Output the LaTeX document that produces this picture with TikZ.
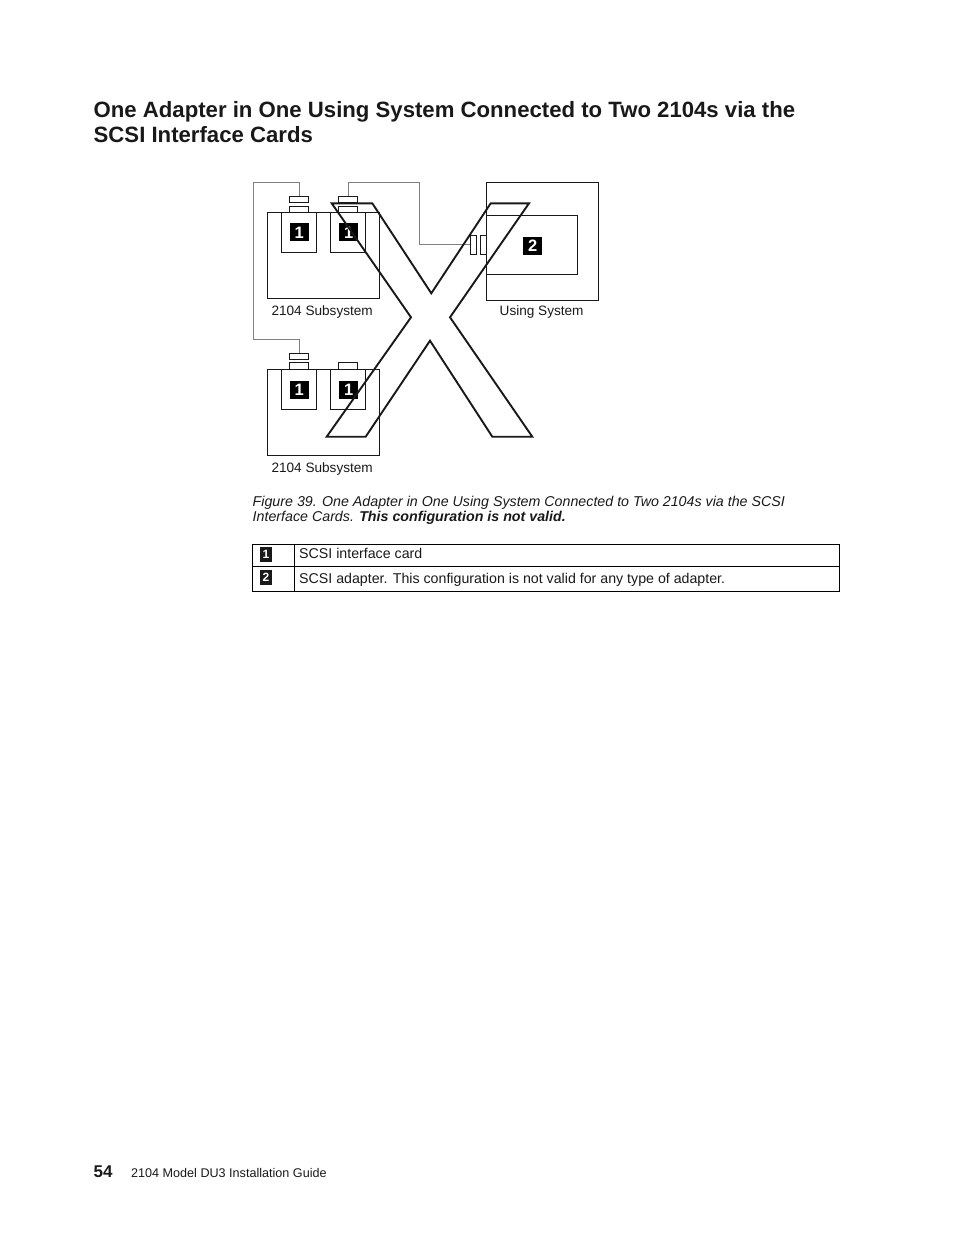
\documentclass[tikz,border=0pt]{standalone}
\usepackage{fontspec}
\setmainfont{Liberation Sans}
\tikzset{
  thinbox/.style={draw=black!90,line width=0.85pt,fill=none},
  cablewire/.style={draw=black!50,line width=0.9pt},
  xmark/.style={draw=black!90,line width=1.9pt,line join=miter},
  badge/.style={fill=black,text=white,inner sep=0pt,minimum width=18.6pt,minimum height=18pt,font=\fontsize{16.5}{18}\selectfont\bfseries},
  smallbadge/.style={fill=black!90,text=white,inner sep=0pt,minimum width=12pt,minimum height=15pt,font=\fontsize{12}{15}\selectfont\bfseries},
  txt/.style={anchor=base west,inner sep=0pt,text=black!90,font=\fontsize{14.2}{16}\selectfont},
  lbl/.style={anchor=base west,inner sep=0pt,text=black!90,font=\fontsize{13.6}{16}\selectfont},
  head/.style={anchor=base west,inner sep=0pt,text=black!90,font=\fontsize{22.16}{25}\selectfont\bfseries},
  captext/.style={anchor=base west,inner sep=0pt,text=black!90,font=\fontsize{14.24}{16}\selectfont\itshape},
  tabrule/.style={draw=black,line width=0.9pt},
}
\begin{document}
\begin{tikzpicture}[x=1pt,y=-1pt]
\useasboundingbox (0,0) rectangle (954,1235);
% headings
\node[head] (h1) at (93.5,117.5) {One Adapter in One Using System Connected to Two 2104s via the};
\node[head] (h2) at (93.5,142.5) {SCSI Interface Cards};
% cable corners
\coordinate (c1a) at (299,196.3);
\coordinate (c1b) at (299,182.8);
\coordinate (c1c) at (253,182.8);
\coordinate (c1d) at (253,339.3);
\coordinate (c1e) at (299,339.3);
\coordinate (c1f) at (299,353.3);
\coordinate (c2a) at (348,196.3);
\coordinate (c2b) at (348,182.8);
\coordinate (c2c) at (419.7,182.8);
\coordinate (c2d) at (419.7,244);
\coordinate (c2e) at (470.3,244);
\draw[cablewire] (c1a) -- (c1b) -- (c1c) -- (c1d) -- (c1e) -- (c1f);
\draw[cablewire] (c2a) -- (c2b) -- (c2c) -- (c2d) -- (c2e);
% upper subsystem
\draw[thinbox] (267.3,212.3) rectangle (379.3,298.3);
\draw[thinbox] (281.3,212.3) rectangle (316.3,252.7);
\draw[thinbox] (330.3,212.3) rectangle (365.3,252.7);
\draw[thinbox] (289.3,196.3) rectangle (308.7,202.3);
\draw[thinbox] (289.3,206) rectangle (308.7,212.3);
\draw[thinbox] (338.3,196.3) rectangle (357.7,202.3);
\draw[thinbox] (338.3,206) rectangle (357.7,212.3);
\node[badge] (b1) at (299.2,232.4) {1};
\node[badge] (b2) at (348.6,232.4) {1};
\node[lbl] (l1) at (271.3,315.3) {2104 Subsystem};
% lower subsystem
\draw[thinbox] (267.3,369.3) rectangle (379.3,455.3);
\draw[thinbox] (281.3,369.3) rectangle (316.3,409.3);
\draw[thinbox] (330.3,369.3) rectangle (365.3,409.3);
\draw[thinbox] (289.3,353.3) rectangle (308.7,359.3);
\draw[thinbox] (289.3,362.3) rectangle (308.7,369.3);
\draw[thinbox] (338.3,362.3) rectangle (357.7,369.3);
\node[badge] (b3) at (299.2,389.5) {1};
\node[badge] (b4) at (348.6,389.5) {1};
\node[lbl] (l2) at (271.3,472.3) {2104 Subsystem};
% using system
\draw[thinbox] (486.3,182.7) rectangle (598.3,300.3);
\draw[thinbox] (486.3,215.3) rectangle (577.3,274.3);
\draw[thinbox] (470.3,235.3) rectangle (476.3,254.7);
\draw[thinbox] (480.3,235.3) rectangle (486.3,254.7);
\node[badge] (b5) at (532.6,245.7) {2};
\node[lbl] (l3) at (499.5,315.3) {Using System};
% X
\draw[xmark] (331.7,203.3) -- (372.3,203.3) -- (431.3,293.3) -- (490.7,203.3) -- (529,203.3)
  -- (450,317.3) -- (532.3,436.7) -- (492.3,436.7) -- (430,340.7) -- (365.7,436.7)
  -- (326.7,436.7) -- (411,317.3) -- cycle;
% caption
\node[captext] (c1) at (252.5,506) {Figure 39. One Adapter in One Using System Connected to Two 2104s via the SCSI};
\node[captext] (c2) at (252.5,521) {Interface Cards. \textbf{This configuration is not valid.}};
% table
\draw[tabrule] (252.7,544.4) rectangle (839.5,591.3);
\draw[tabrule] (252.7,566.7) -- (839.5,566.7);
\draw[tabrule] (294.4,544.4) -- (294.4,591.3);
\node[smallbadge] (t1) at (266,554.4) {1};
\node[smallbadge] (t2) at (266,577.2) {2};
\node[txt] (t3) at (299,558) {SCSI interface card};
\node[txt] (t4) at (299,583) {SCSI adapter. This configuration is not valid for any type of adapter.};
% footer
\node[anchor=base west,inner sep=0pt,text=black!90,font=\fontsize{17}{20}\selectfont\bfseries] (p) at (93.5,1177) {54};
\node[anchor=base west,inner sep=0pt,text=black!90,font=\fontsize{12.6}{15}\selectfont] (f) at (131,1177) {2104 Model DU3 Installation Guide};
\end{tikzpicture}
\end{document}
